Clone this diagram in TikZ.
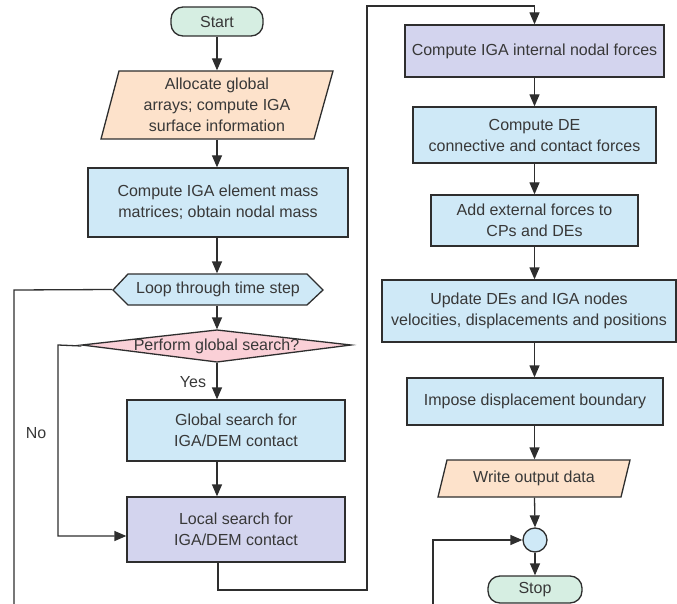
\documentclass[tikz,border=0pt]{standalone}
\usepackage{fontspec}
\setmainfont{Liberation Sans}
\usetikzlibrary{arrows.meta}
\definecolor{lineC}{HTML}{2E2E2E}
\definecolor{txtC}{HTML}{383838}
\definecolor{greenC}{HTML}{D6EEE2}
\definecolor{peachC}{HTML}{FDE2CB}
\definecolor{blueC}{HTML}{CFE9F7}
\definecolor{lavC}{HTML}{D3D4EE}
\definecolor{pinkC}{HTML}{FAD0D7}
\begin{document}
\begin{tikzpicture}[x=1pt,y=-1pt,
  box/.style={draw=lineC, line width=1.3pt, inner sep=0pt, align=center,
    font=\fontsize{16}{21}\selectfont, text=txtC},
  lbl/.style={inner sep=0pt, font=\fontsize{16}{21}\selectfont, text=txtC},
  conn/.style={draw=lineC, line width=1.3pt},
  arr/.style={conn, -{Triangle[length=12pt,width=10pt]}},
  shp/.style={draw=lineC, line width=1.3pt, line join=miter}]
\useasboundingbox (0,0) rectangle (677,604);
% ---------- left column ----------
\node[box, fill=greenC, rounded corners=12pt, minimum width=92pt, minimum height=29pt] (start) at (217,21.5) {Start};
\filldraw[shp, fill=peachC] (119,71) -- (333,71) -- (314,139) -- (101,139) -- cycle;
\node[box, draw=none, minimum width=180pt, minimum height=68pt] (alloc) at (217,105) {Allocate global\\arrays; compute IGA\\surface information};
\node[box, fill=blueC, minimum width=260pt, minimum height=69pt] (mass) at (218,202.5) {Compute IGA element mass\\matrices; obtain nodal mass};
\filldraw[shp, fill=blueC] (113,290) -- (128,274) -- (307,274) -- (323,290) -- (307,305) -- (128,305) -- cycle;
\node[box, draw=none, minimum width=210pt, minimum height=31pt] (loop) at (218,289.5) {Loop through time step};
\filldraw[shp, fill=pinkC] (82,345) -- (217,330) -- (351,345) -- (217,362) -- cycle;
\node[box, draw=none, minimum width=269pt, minimum height=32pt] (dec) at (216.5,346) {Perform global search?};
\node[box, fill=blueC, minimum width=218pt, minimum height=61pt] (glob) at (236,430.5) {Global search for\\IGA/DEM contact};
\node[box, fill=lavC, minimum width=218pt, minimum height=65pt] (loc) at (236,529.5) {Local search for\\IGA/DEM contact};
\node[lbl] (yes) at (193,382) {Yes};
\node[lbl] (no) at (36,433) {No};
% ---------- right column ----------
\node[box, fill=lavC, minimum width=259pt, minimum height=52pt] (ipn) at (534.5,51) {Compute IGA internal nodal forces};
\node[box, fill=blueC, minimum width=243pt, minimum height=56pt] (de) at (534.5,135) {Compute DE\\connective and contact forces};
\node[box, fill=blueC, minimum width=207pt, minimum height=51pt] (ext) at (534.5,220.5) {Add external forces to\\CPs and DEs};
\node[box, fill=blueC, minimum width=294pt, minimum height=62pt] (upd) at (529,311) {Update DEs and IGA nodes\\velocities, displacements and positions};
\node[box, fill=blueC, minimum width=256pt, minimum height=47pt] (imp) at (535,401.5) {Impose displacement boundary};
\filldraw[shp, fill=peachC] (447,460) -- (630,460) -- (621,497) -- (438,497) -- cycle;
\node[box, draw=none, minimum width=170pt, minimum height=37pt] (wod) at (534,478.5) {Write output data};
\node[circle, draw=lineC, line width=1.3pt, fill=blueC, minimum size=24pt, inner sep=0pt] (cj) at (535,540) {};
\node[box, fill=greenC, rounded corners=12pt, minimum width=94pt, minimum height=27pt] (stop) at (535,589.5) {Stop};
% ---------- connectors ----------
\draw[arr] (start.south) -- (alloc.north);
\draw[arr] (alloc.south) -- (mass.north -| alloc.south);
\draw[arr] (mass.south -| alloc.south) -- (loop.north -| alloc.south);
\draw[arr] (loop.south -| alloc.south) -- (dec.north -| alloc.south);
\draw[arr] (dec.south -| alloc.south) -- (glob.north -| alloc.south);
\draw[arr] (glob.south -| alloc.south) -- (loc.north -| alloc.south);
\coordinate (nocorner) at (58,345);
\draw[arr] (dec.west) -- (nocorner) -- (58,536) -- (loc.west |- 0,536);
\coordinate (l1) at (218,590);
\coordinate (l2) at (367,590);
\coordinate (l3) at (367,6);
\draw[arr] (loc.south -| l1) -- (l1) -- (l2) -- (l3) -- (ipn.north |- l3) -- (ipn.north);
\coordinate (h1) at (14,290);
\coordinate (h2) at (14,604);
\draw[conn] (loop.west) -- (h1) -- (h2);
\draw[arr] (ipn.south) -- (de.north);
\draw[arr] (de.south) -- (ext.north);
\draw[arr] (ext.south) -- (upd.north -| ext.south);
\draw[arr] (upd.south -| ext.south) -- (imp.north -| ext.south);
\draw[arr] (imp.south -| ext.south) -- (wod.north -| ext.south);
\draw[arr] (wod.south -| ext.south) -- (cj.north);
\draw[arr] (cj.south) -- (stop.north);
\coordinate (c1) at (433,604);
\coordinate (c2) at (433,540);
\draw[arr] (c1) -- (c2) -- (cj.west);
\end{tikzpicture}
\end{document}
